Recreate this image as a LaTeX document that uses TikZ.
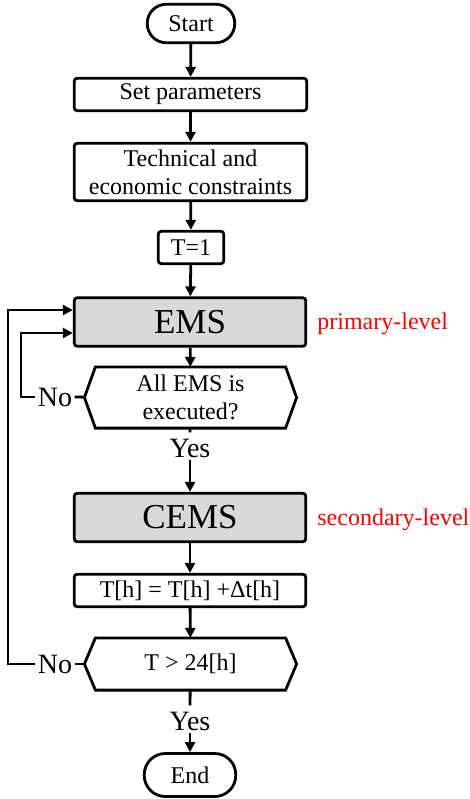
\documentclass[tikz,border=0pt]{standalone}
\usepackage{fontspec}
\setmainfont{Liberation Serif}
\usetikzlibrary{arrows.meta}

% hexagon outline around a decision node
\newcommand{\hexout}[1]{\draw (#1.west) -- ([xshift=11pt]#1.north west) -- ([xshift=-11pt]#1.north east)
    -- (#1.east) -- ([xshift=-11pt]#1.south east) -- ([xshift=11pt]#1.south west) -- cycle;}

\begin{document}
\begin{tikzpicture}[x=1pt, y=-1pt, line width=2.8pt, >={Triangle[length=10pt,width=10pt]},
    every node/.style={font=\fontsize{24}{28}\selectfont, inner sep=0pt},
    box/.style={draw, rounded corners=3pt, align=center, minimum height=32.5pt},
    emsbox/.style={box, fill=gray!30, font=\fontsize{35}{40}\selectfont, minimum width=231.5pt, minimum height=48.5pt},
    term/.style={draw, rounded corners=19pt, minimum width=87.5pt, minimum height=38.5pt},
    hexa/.style={align=center, minimum width=209.4pt},
    lbl/.style={font=\fontsize{28}{30}\selectfont, inner sep=1pt},
    note/.style={text=red, anchor=base west}]
    \useasboundingbox (0,0) rectangle (470,799);

    % Nodes
    \node[term] (start) at (191,23.5) {Start};
    \node[box, minimum width=232.5pt] (setp) at (190.5,94.5) {Set parameters};
    \node[box, minimum width=232.5pt, minimum height=57.5pt] (tech) at (190.5,172) {Technical and\\economic constraints};
    \node[box, minimum width=65.5pt] (t1) at (191,247.5) {T=1};
    \node[emsbox] (ems) at (190,322) {EMS};
    \node[hexa, minimum height=58.4pt] (dec1) at (190.5,397.5) {All EMS is\\executed?};
    \node[lbl] (yes1) at (190,448) {Yes};
    \node[emsbox] (cems) at (190,517.5) {CEMS};
    \node[box, minimum width=231.5pt] (upd) at (190,590.5) {T[h] = T[h] +Δt[h]};
    \node[hexa, minimum height=49.4pt] (dec2) at (190.5,664) {T > 24[h]};
    \node[lbl] (yes2) at (190,721) {Yes};
    \node[term, minimum width=91.5pt, minimum height=43pt, rounded corners=21pt] (end) at (190,775) {End};
    \node[lbl] (no1) at (55,397) {No};
    \node[lbl] (no2) at (55,664) {No};
    \node[note] (prim) at (316,329) {primary-level};
    \node[note] (sec) at (316,525) {secondary-level};
    \hexout{dec1}
    \hexout{dec2}

    % Edges
    \draw[->] (start) -- (setp);
    \draw[->] (setp) -- (tech);
    \draw[->] (tech) -- (t1);
    \draw[->] (t1) -- (ems);
    \draw[->] (ems) -- (dec1);
    \draw (dec1) -- ([yshift=4pt]yes1.north);
    \draw[->] (yes1) -- (cems);
    \draw[->] (cems) -- (upd);
    \draw[->] (upd) -- (dec2);
    \draw (dec2) -- ([yshift=4pt]yes2.north);
    \draw[->] (yes2) -- (end);

    \draw (dec1) -- (no1);
    \draw[->] (no1) -| (21,360) |- ([yshift=-11pt]ems.west);
    \draw (dec2) -- (no2);
    \draw[->] (no2) -| (8,480) |- ([yshift=12pt]ems.west);

\end{tikzpicture}
\end{document}
